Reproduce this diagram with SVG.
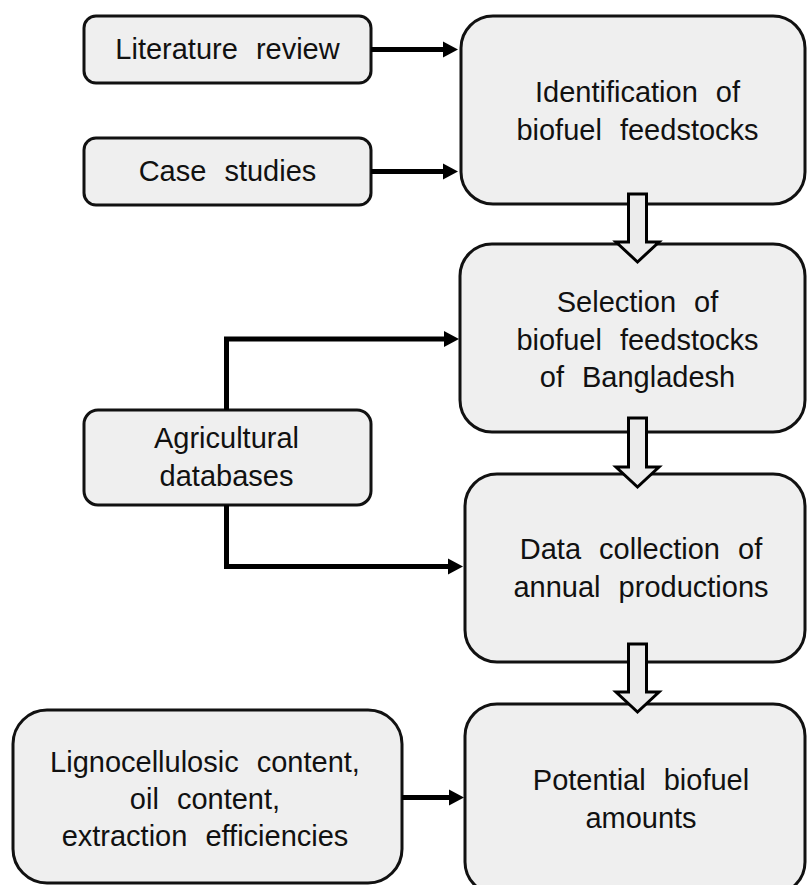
<svg xmlns="http://www.w3.org/2000/svg" width="807" height="885" viewBox="0 0 807 885">
<style>
.box{fill:#efefef;stroke:#111;stroke-width:3}
.t{font-family:"Liberation Sans",Arial,sans-serif;font-size:29px;fill:#111;text-anchor:middle;word-spacing:10px}
.c{fill:none;stroke:#000;stroke-width:5}
.h{fill:#ececec;stroke:#000;stroke-width:3;stroke-linejoin:miter}
</style>
<defs>
<marker id="ah" markerUnits="userSpaceOnUse" markerWidth="16" markerHeight="17" refX="0" refY="8" orient="auto" overflow="visible">
<path d="M0,0 L15,8 L0,16 z" fill="#000"/>
</marker>
</defs>
<rect width="807" height="885" fill="#fff"/>
<g id="literature">
<rect class="box" x="84" y="16" width="287" height="67" rx="12"/>
<text class="t" x="227.5" y="59">Literature review</text>
</g>
<g id="case">
<rect class="box" x="84" y="138" width="287" height="67" rx="12"/>
<text class="t" x="227.5" y="181">Case studies</text>
</g>
<g id="identification">
<rect class="box" x="461" y="16" width="344" height="188" rx="32"/>
<text class="t" x="637.5" y="102">Identification of</text>
<text class="t" x="637.5" y="139.5">biofuel feedstocks</text>
</g>
<g id="selection">
<rect class="box" x="460" y="244" width="345" height="188" rx="32"/>
<text class="t" x="637.5" y="312">Selection of</text>
<text class="t" x="637.5" y="349.5">biofuel feedstocks</text>
<text class="t" x="637.5" y="387">of Bangladesh</text>
</g>
<g id="agricultural">
<rect class="box" x="84" y="410" width="287" height="95" rx="14"/>
<text class="t" x="226.5" y="448">Agricultural</text>
<text class="t" x="226.5" y="486">databases</text>
</g>
<g id="data">
<rect class="box" x="465" y="474" width="340" height="188" rx="32"/>
<text class="t" x="641" y="559">Data collection of</text>
<text class="t" x="641" y="597">annual productions</text>
</g>
<g id="potential">
<rect class="box" x="465" y="704" width="340" height="190" rx="32"/>
<text class="t" x="641" y="790">Potential biofuel</text>
<text class="t" x="641" y="828">amounts</text>
</g>
<g id="ligno">
<rect class="box" x="13" y="710" width="389" height="173" rx="34"/>
<text class="t" x="205" y="771.5">Lignocellulosic content,</text>
<text class="t" x="205" y="808.5">oil content,</text>
<text class="t" x="205" y="846">extraction efficiencies</text>
</g>
<g id="connectors">
<path class="c" d="M371,49.5 H443" marker-end="url(#ah)"/>
<path class="c" d="M371,171.5 H443" marker-end="url(#ah)"/>
<path class="c" d="M226.5,410 V339 H444" marker-end="url(#ah)"/>
<path class="c" d="M226.5,505 V566.5 H448" marker-end="url(#ah)"/>
<path class="c" d="M402,797.5 H449" marker-end="url(#ah)"/>
<polygon class="h" points="628.5,194 646.5,194 646.5,242 659,242 637.5,262 616,242 628.5,242"/>
<polygon class="h" points="628.5,418 646.5,418 646.5,467 659,467 637.5,487 616,467 628.5,467"/>
<polygon class="h" points="628.5,644 646.5,644 646.5,692 659,692 637.5,712 616,692 628.5,692"/>
</g>
</svg>
